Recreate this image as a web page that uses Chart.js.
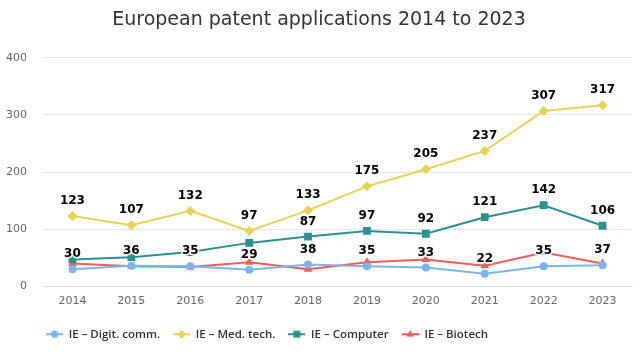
<!DOCTYPE html>
<html>
<head>
<meta charset="utf-8">
<script src="https://cdn.jsdelivr.net/npm/chart.js@4"></script>
<style>
  html, body { margin: 0; padding: 0; background: #fff; }
  #wrap { width: 640px; height: 354px; }
</style>
</head>
<body>
<div id="wrap"><canvas id="chart" width="640" height="354"></canvas></div>
<script>
const years = ['2014', '2015', '2016', '2017', '2018', '2019', '2020', '2021', '2022', '2023'];
const digitComm = [30, 36, 35, 29, 38, 35, 33, 22, 35, 37];
const medTech = [123, 107, 132, 97, 133, 175, 205, 237, 307, 317];
const computer = [47, 51, 60, 76, 87, 97, 92, 121, 142, 106];
const biotech = [40, 35, 34, 42, 30, 42, 47, 36, 59, 40];
const yTicks = [0, 100, 200, 300, 400];

const seriesNames = ['IE – Digit. comm.', 'IE – Med. tech.', 'IE – Computer', 'IE – Biotech'];
const colors = ['#7cb5ec', '#e4d354', '#2b908f', '#f45b5b'];
const styles = ['circle', 'rectRot', 'rect', 'triangle'];
const radii = [4, 5, 5.5, 5];

// legend symbol: short line with the marker in the middle
function legendSymbol(i) {
  const c = document.createElement('canvas');
  c.width = 17; c.height = 12;
  const g = c.getContext('2d');
  g.strokeStyle = colors[i];
  g.lineWidth = 2;
  g.beginPath(); g.moveTo(0, 6); g.lineTo(17, 6); g.stroke();
  g.fillStyle = colors[i];
  Chart.helpers.drawPoint(g, { pointStyle: styles[i], radius: radii[i] * 0.85, rotation: 0, borderWidth: 0 }, 8.5, 6);
  g.fill();
  return c;
}

// data labels, skipping those that would collide with one already drawn
const labelPlugin = {
  id: 'labels',
  afterDatasetsDraw(chart) {
    const ctx = chart.ctx;
    const placed = [];
    ctx.save();
    ctx.font = 'bold 12px "DejaVu Sans"';
    ctx.textAlign = 'center';
    ctx.textBaseline = 'middle';
    chart.data.datasets.forEach((ds, di) => {
      const meta = chart.getDatasetMeta(di);
      meta.data.forEach((pt, i) => {
        const text = String(ds.data[i]);
        const w = ctx.measureText(text).width + 4;
        const h = 18;
        const x = pt.x, y = pt.y - 15;
        const box = { l: x - w / 2, r: x + w / 2, t: y - h / 2, b: y + h / 2 };
        const hit = placed.some(p => !(box.r < p.l || box.l > p.r || box.b < p.t || box.t > p.b));
        if (hit) return;
        placed.push(box);
        ctx.lineWidth = 3;
        ctx.strokeStyle = '#fff';
        ctx.lineJoin = 'round';
        ctx.strokeText(text, x, y);
        ctx.fillStyle = '#000';
        ctx.fillText(text, x, y);
      });
    });
    ctx.restore();
  }
};

// the legend in the reference sits left of centre
const legendShift = {
  id: 'legendShift',
  afterLayout(chart) {
    chart.legend.left -= 52;
    chart.legend.right -= 52;
  }
};

const allSeries = [digitComm, medTech, computer, biotech];

new Chart(document.getElementById('chart'), {
  type: 'line',
  data: {
    labels: years,
    datasets: allSeries.map((vals, i) => ({
      label: seriesNames[i],
      data: vals,
      borderColor: colors[i],
      backgroundColor: colors[i],
      pointStyle: styles[i],
      pointRadius: radii[i],
      pointBorderWidth: 0,
      borderWidth: 2,
      tension: 0,
      fill: false,
    })),
  },
  options: {
    responsive: false,
    animation: false,
    layout: { padding: { left: 6, right: 8, top: 0, bottom: 4 } },
    plugins: {
      title: {
        display: true,
        text: 'European patent applications 2014 to 2023',
        color: '#333',
        font: { family: '"DejaVu Sans"', size: 19, weight: 'normal' },
        padding: { top: 9, bottom: 26 },
      },
      legend: {
        position: 'bottom',
        labels: {
          usePointStyle: true,
          pointStyleWidth: 17,
          generateLabels(chart) {
            return chart.data.datasets.map((ds, i) => ({
              text: ds.label,
              pointStyle: legendSymbol(i),
              fillStyle: colors[i],
              strokeStyle: colors[i],
              fontColor: '#333',
              datasetIndex: i,
              hidden: false,
            }));
          },
          color: '#333',
          font: { family: '"Open Sans"', size: 11.5, weight: '600' },
          padding: 13,
        },
      },
      tooltip: { enabled: false },
    },
    scales: {
      x: {
        offset: true,
        grid: { display: false, drawTicks: false },
        border: { color: '#e0e0e0' },
        ticks: { color: '#666', font: { family: '"DejaVu Sans"', size: 11 }, padding: 8 },
      },
      y: {
        min: 0,
        max: 400,
        afterBuildTicks(axis) { axis.ticks = yTicks.map(v => ({ value: v })); },
        afterFit(axis) { axis.width = 37; },
        grid: { color: '#e6e6e6', drawTicks: false },
        border: { display: false },
        ticks: { color: '#666', font: { family: '"DejaVu Sans"', size: 11 }, padding: 16 },
      },
    },
  },
  plugins: [labelPlugin, legendShift],
});
</script>
</body>
</html>
